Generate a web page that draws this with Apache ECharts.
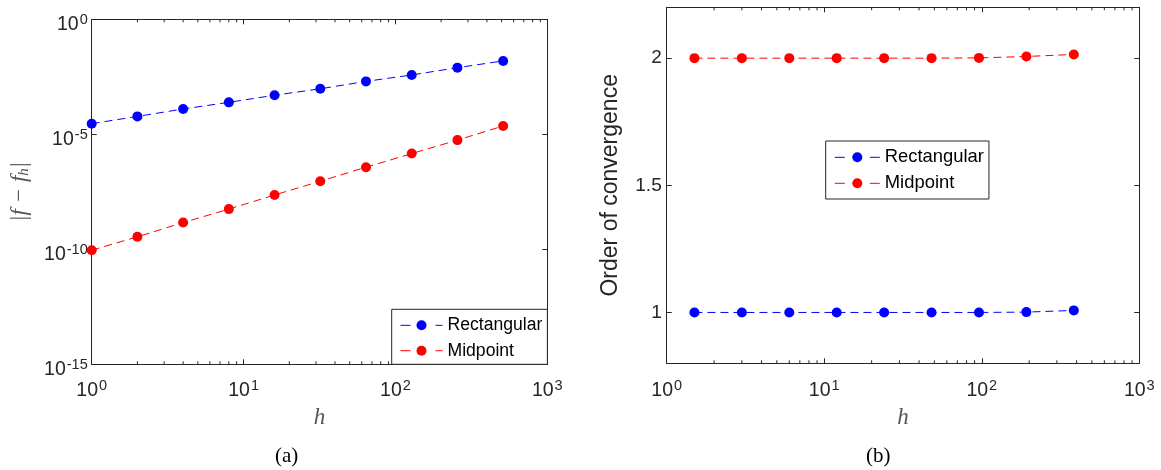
<!DOCTYPE html>
<html>
<head>
<meta charset="utf-8">
<script src="https://cdn.jsdelivr.net/npm/echarts@6/dist/echarts.min.js"></script>
<style>html,body{margin:0;padding:0;background:#fff}#c{width:1161px;height:470px}</style>
</head>
<body>
<div id="c"></div>
<script>
// ---- data ----
const hLeft = [1, 2, 4, 8, 16, 32, 64, 128, 256, 512];
const errRect = [2.9e-5, 6.0e-5, 1.26e-4, 2.45e-4, 5.0e-4, 9.5e-4, 2.0e-3, 3.8e-3, 7.9e-3, 1.55e-2];
const errMid = [9.1e-11, 3.5e-10, 1.45e-9, 5.6e-9, 2.3e-8, 9.1e-8, 3.7e-7, 1.45e-6, 5.6e-6, 2.3e-5];
const hRight = [1.5, 3, 6, 12, 24, 48, 96, 192, 384];
const orderRect = [1, 1, 1, 1, 1, 1, 1, 1.0013, 1.008];
const orderMid = [2, 2, 2, 2, 2, 2, 2.001, 2.0066, 2.0145];
const minorTicks = [2,3,4,5,6,7,8,9,20,30,40,50,60,70,80,90,200,300,400,500,600,700,800,900];
const rightYTicks = [1, 1.5, 2];
const seriesNames = ['Rectangular', 'Midpoint'];
const captions = ['(a)', '(b)'];

const SANS = "'Liberation Sans', Arial, Helvetica, sans-serif";
const SERIF = "'Liberation Serif', 'Times New Roman', serif";
const AX = '#262626';
const BLUE = '#0000ff', RED = '#ff0000';

function powLabel(v) {
  const e = Math.round(Math.log10(v));
  return '{b|10}{s|' + (e < 0 ? '-' + (-e) : e) + '}';
}
const powRich = {
  b: { fontSize: 19.5, fontFamily: SANS, color: AX, lineHeight: 22, verticalAlign: 'bottom' },
  s: { fontSize: 14.5, fontFamily: SANS, color: AX, lineHeight: 22, verticalAlign: 'top', padding: [0, 0, 0, 1] }
};

function boxAxis(base) {
  return Object.assign({
    axisLine: { show: true, onZero: false, lineStyle: { color: AX, width: 1 } },
    axisTick: { show: true, inside: true, length: 5, lineStyle: { color: AX } },
    splitLine: { show: false },
    minorTick: { show: false },
    axisLabel: { show: false }
  }, base);
}

const dash = [8, 5];
function lineSeries(name, xs, ys, color, xi, yi) {
  return {
    type: 'line', name: name, xAxisIndex: xi, yAxisIndex: yi,
    data: xs.map((x, i) => [x, ys[i]]),
    symbol: 'circle', symbolSize: 10, showSymbol: true,
    lineStyle: { color: color, width: 1, type: dash },
    itemStyle: { color: color },
    animation: false, z: 3
  };
}
function minorTickSeries(xi, yi, yRef) {
  return {
    type: 'custom', xAxisIndex: xi, yAxisIndex: yi, silent: true, animation: false,
    data: minorTicks.map(v => [v, yRef]),
    renderItem: function (params, api) {
      const x = api.coord([api.value(0), yRef])[0];
      const cs = params.coordSys;
      const st = { stroke: AX, lineWidth: 1 };
      return {
        type: 'group', children: [
          { type: 'line', shape: { x1: x, y1: cs.y + cs.height, x2: x, y2: cs.y + cs.height - 3 }, style: st },
          { type: 'line', shape: { x1: x, y1: cs.y, x2: x, y2: cs.y + 3 }, style: st }
        ]
      };
    }
  };
}

function legendCfg(left, top, fontSize, itemWidth, padding, gap) {
  return {
    orient: 'vertical', data: seriesNames, left: left, top: top,
    itemWidth: itemWidth, itemHeight: 12.5, itemGap: gap, itemTextGap: 5,
    padding: padding,
    borderColor: AX, borderWidth: 1, borderRadius: 0, backgroundColor: '#fff',
    textStyle: { fontFamily: SANS, fontSize: fontSize, color: '#000', lineHeight: 20 },
    itemStyle: { borderWidth: 0 },
    lineStyle: { type: [10, 25], width: 1 },
    selectedMode: false
  };
}

const chart = echarts.init(document.getElementById('c'), null, { renderer: 'canvas' });
chart.setOption({
  animation: false,
  backgroundColor: '#fff',
  grid: [
    { left: 91.7, top: 19.3, width: 455.6, height: 345, containLabel: false },
    { left: 666.7, top: 7.3, width: 472.6, height: 356, containLabel: false }
  ],
  xAxis: [
    boxAxis({ gridIndex: 0, type: 'log', logBase: 10, min: 1, max: 1000, position: 'bottom',
      axisLabel: { show: true, formatter: powLabel, rich: powRich, margin: 14 },
      name: 'h', nameLocation: 'middle', nameGap: 42,
      nameTextStyle: { fontFamily: SERIF, fontStyle: 'italic', fontSize: 23, color: '#555' } }),
    boxAxis({ gridIndex: 0, type: 'log', logBase: 10, min: 1, max: 1000, position: 'top' }),
    boxAxis({ gridIndex: 1, type: 'log', logBase: 10, min: 1, max: 1000, position: 'bottom',
      axisLabel: { show: true, formatter: powLabel, rich: powRich, margin: 15 },
      name: 'h', nameLocation: 'middle', nameGap: 43,
      nameTextStyle: { fontFamily: SERIF, fontStyle: 'italic', fontSize: 23, color: '#555' } }),
    boxAxis({ gridIndex: 1, type: 'log', logBase: 10, min: 1, max: 1000, position: 'top' })
  ],
  yAxis: [
    boxAxis({ gridIndex: 0, type: 'log', logBase: 10, min: 1e-15, max: 1, interval: 5, position: 'left',
      axisLabel: { show: true, formatter: powLabel, rich: powRich, margin: 4, padding: [8, 0, 0, 0] },
      name: '{a||f − f}{b|h}{a||}', nameLocation: 'middle', nameGap: 60, nameRotate: 90,
      nameTextStyle: { rich: {
        a: { fontFamily: SERIF, fontStyle: 'italic', fontSize: 23, color: '#555' },
        b: { fontFamily: SERIF, fontStyle: 'italic', fontSize: 15, color: '#555', verticalAlign: 'bottom', lineHeight: 20 }
      } } }),
    boxAxis({ gridIndex: 0, type: 'log', logBase: 10, min: 1e-15, max: 1, interval: 5, position: 'right' }),
    boxAxis({ gridIndex: 1, type: 'value', min: 0.8, max: 2.2, position: 'left',
      axisTick: { show: true, inside: true, length: 5, lineStyle: { color: AX }, customValues: rightYTicks },
      axisLabel: { show: true, customValues: rightYTicks, margin: 5, fontFamily: SANS, fontSize: 19, color: AX },
      name: 'Order of convergence', nameLocation: 'middle', nameGap: 45, nameRotate: 90,
      nameTextStyle: { fontFamily: SANS, fontSize: 23, color: AX } }),
    boxAxis({ gridIndex: 1, type: 'value', min: 0.8, max: 2.2, position: 'right',
      axisTick: { show: true, inside: true, length: 5, lineStyle: { color: AX }, customValues: rightYTicks } })
  ],
  legend: [
    legendCfg(391.7, 309.3, 17.6, 42, [6, 5, 3.6, 8.3], 5.4),
    legendCfg(825.7, 141, 18.4, 45, [6.3, 5, 5.7, 8.6], 6)
  ],
  series: [
    lineSeries(seriesNames[0], hLeft, errRect, BLUE, 0, 0),
    lineSeries(seriesNames[1], hLeft, errMid, RED, 0, 0),
    lineSeries(seriesNames[0], hRight, orderRect, BLUE, 2, 2),
    lineSeries(seriesNames[1], hRight, orderMid, RED, 2, 2),
    minorTickSeries(0, 0, 1e-5),
    minorTickSeries(2, 2, 1.5)
  ],
  graphic: [
    { type: 'text', x: 286.7, y: 456.7, style: { text: captions[0], fontFamily: SERIF, fontSize: 21, fill: '#000', align: 'center', verticalAlign: 'middle' } },
    { type: 'text', x: 878.3, y: 456.7, style: { text: captions[1], fontFamily: SERIF, fontSize: 21, fill: '#000', align: 'center', verticalAlign: 'middle' } }
  ]
});
</script>
</body>
</html>
